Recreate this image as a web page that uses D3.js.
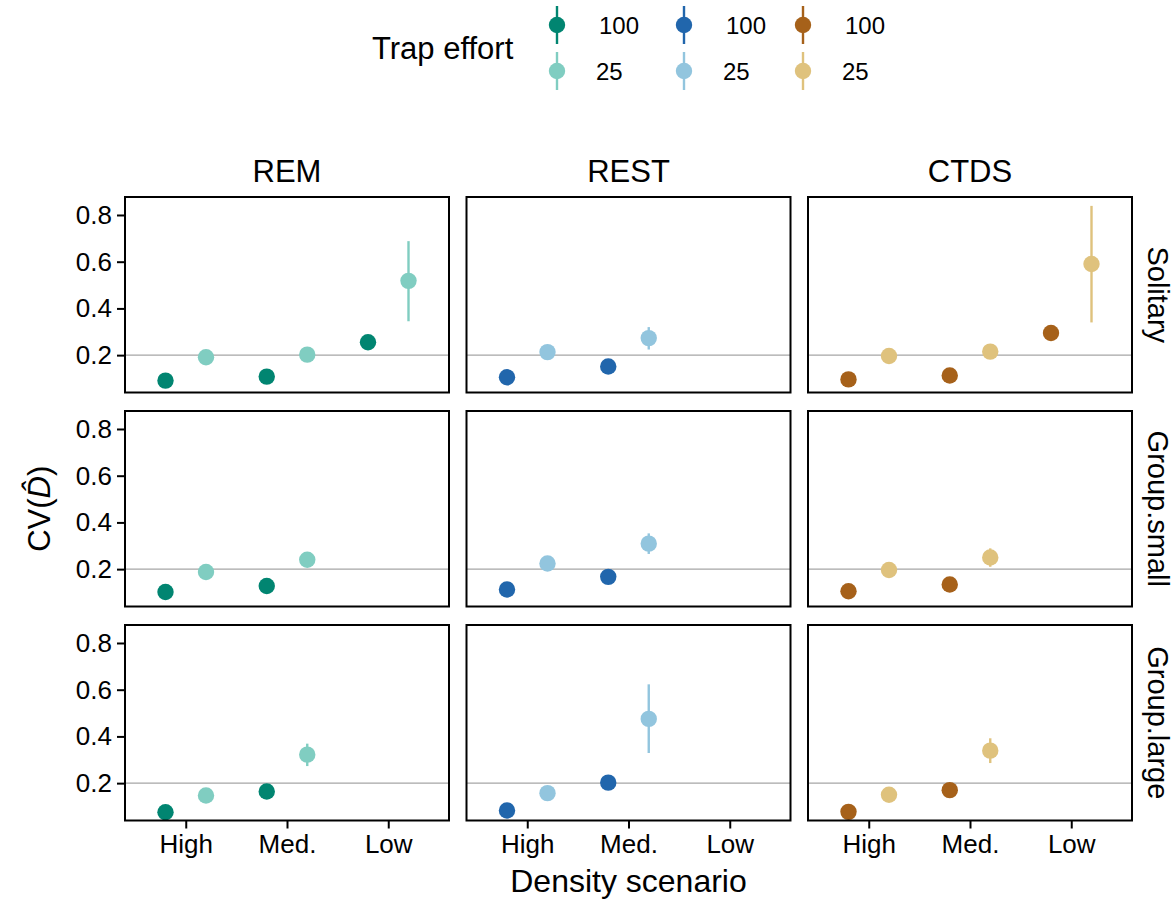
<!DOCTYPE html>
<html>
<head>
<meta charset="utf-8">
<script src="https://cdn.jsdelivr.net/npm/d3@7"></script>
<style>
  body { margin: 0; background: #fff; }
  text { font-family: "Liberation Sans", Arial, sans-serif; fill: #000; }
</style>
</head>
<body>
<div id="chart"></div>
<script>
// facets and categories
const methods = ["REM", "REST", "CTDS"];
const groups = ["Solitary", "Group.small", "Group.large"];
const densities = ["High", "Med.", "Low"];
const efforts = ["100", "25"];
const yTicks = [0.2, 0.4, 0.6, 0.8];

// CV of density estimate, order per row: High100, High25, Med100, Med25, Low100, Low25
// rows = Solitary, Group.small, Group.large; null = not simulated
const cvREM  = [[0.091, 0.191, 0.108, 0.202, 0.255, 0.518],
                [0.102, 0.188, 0.128, 0.240, null, null],
                [0.075, 0.147, 0.164, 0.322, null, null]];
const loREM  = [[0.085, 0.181, 0.101, 0.190, 0.246, 0.345],
                [0.097, 0.180, 0.121, 0.225, null, null],
                [0.070, 0.139, 0.157, 0.273, null, null]];
const hiREM  = [[0.097, 0.201, 0.115, 0.214, 0.264, 0.688],
                [0.107, 0.196, 0.135, 0.255, null, null],
                [0.080, 0.155, 0.171, 0.369, null, null]];

const cvREST = [[0.105, 0.213, 0.151, 0.273, null, null],
                [0.113, 0.224, 0.167, 0.309, null, null],
                [0.083, 0.157, 0.202, 0.475, null, null]];
const loREST = [[0.100, 0.201, 0.145, 0.224, null, null],
                [0.107, 0.205, 0.158, 0.265, null, null],
                [0.078, 0.148, 0.193, 0.329, null, null]];
const hiREST = [[0.110, 0.225, 0.157, 0.320, null, null],
                [0.119, 0.243, 0.176, 0.353, null, null],
                [0.088, 0.166, 0.211, 0.623, null, null]];

const cvCTDS = [[0.096, 0.196, 0.113, 0.215, 0.295, 0.590],
                [0.105, 0.196, 0.134, 0.250, null, null],
                [0.077, 0.150, 0.170, 0.339, null, null]];
const loCTDS = [[0.090, 0.185, 0.107, 0.203, 0.283, 0.340],
                [0.099, 0.186, 0.127, 0.210, null, null],
                [0.072, 0.141, 0.162, 0.286, null, null]];
const hiCTDS = [[0.102, 0.207, 0.119, 0.227, 0.307, 0.839],
                [0.111, 0.206, 0.141, 0.289, null, null],
                [0.082, 0.159, 0.178, 0.392, null, null]];

const cvAll = [cvREM, cvREST, cvCTDS];
const loAll = [loREM, loREST, loCTDS];
const hiAll = [hiREM, hiREST, hiCTDS];

// colours: [effort 100, effort 25] for each method
const palette = [["#018571", "#80cdc1"], ["#2166ac", "#92c5de"], ["#a6611a", "#dfc27d"]];

const width = 1176, height = 899;
const marginLeft = 125, marginTop = 197;
const panelW = 324, panelH = 195.5;
const gapX = 17.5, gapY = 18.5;

const svg = d3.select("#chart").append("svg")
  .attr("width", width).attr("height", height);

const x = d3.scalePoint().domain(densities).range([0, panelW]).padding(0.6);
const dodge = x.step() * 0.2;
const y = d3.scaleLinear().domain([0.04, 0.877]).range([panelH, 0]);

methods.forEach((m, mi) => {
  groups.forEach((g, gi) => {
    const px = marginLeft + mi * (panelW + gapX);
    const py = marginTop + gi * (panelH + gapY);
    const panel = svg.append("g").attr("transform", `translate(${px},${py})`);

    // points for this panel
    const pts = [];
    densities.forEach((d, di) => {
      efforts.forEach((e, ei) => {
        const k = di * 2 + ei;
        const v = cvAll[mi][gi][k];
        if (v == null) return;
        pts.push({ d, e, ei, v, lo: loAll[mi][gi][k], hi: hiAll[mi][gi][k] });
      });
    });

    // reference line at 0.2
    panel.append("line")
      .attr("x1", 0).attr("x2", panelW)
      .attr("y1", y(0.2)).attr("y2", y(0.2))
      .attr("stroke", "#a6a6a6").attr("stroke-width", 1.4);

    const dotX = d => x(d.d) + (d.ei === 0 ? -dodge : dodge);

    panel.selectAll(".err").data(pts).enter().append("line")
      .attr("x1", dotX).attr("x2", dotX)
      .attr("y1", d => y(d.lo)).attr("y2", d => y(d.hi))
      .attr("stroke", d => palette[mi][d.ei]).attr("stroke-width", 2.4);

    panel.selectAll(".pt").data(pts).enter().append("circle")
      .attr("cx", dotX).attr("cy", d => y(d.v)).attr("r", 8.2)
      .attr("fill", d => palette[mi][d.ei]);

    panel.append("rect")
      .attr("width", panelW).attr("height", panelH)
      .attr("fill", "none").attr("stroke", "#000").attr("stroke-width", 2);

    if (mi === 0) {
      const ya = panel.append("g").call(d3.axisLeft(y).tickValues(yTicks).tickFormat(d3.format(".1f")).tickSize(8).tickPadding(5));
      ya.select(".domain").remove();
      ya.selectAll("line").attr("stroke", "#000").attr("stroke-width", 2);
      ya.selectAll("text").attr("font-size", 26).attr("font-family", "Liberation Sans, Arial, sans-serif").attr("fill", "#111");
    }
    if (gi === groups.length - 1) {
      const xa = panel.append("g").attr("transform", `translate(0,${panelH})`)
        .call(d3.axisBottom(x).tickSize(8).tickPadding(6));
      xa.select(".domain").remove();
      xa.selectAll("line").attr("stroke", "#000").attr("stroke-width", 2);
      xa.selectAll("text").attr("font-size", 26).attr("font-family", "Liberation Sans, Arial, sans-serif").attr("fill", "#111");
    }
    if (gi === 0) {
      svg.append("text")
        .attr("x", px + panelW / 2).attr("y", 182)
        .attr("text-anchor", "middle").attr("font-size", 31).attr("fill", "#1a1a1a")
        .text(m);
    }
    if (mi === methods.length - 1) {
      svg.append("text")
        .attr("transform", `translate(1148,${py + panelH / 2}) rotate(90)`)
        .attr("text-anchor", "middle").attr("font-size", 29).attr("fill", "#1a1a1a")
        .text(g);
    }
  });
});

// axis titles
svg.append("text")
  .attr("x", marginLeft + 1.5 * panelW + gapX).attr("y", 892)
  .attr("text-anchor", "middle").attr("font-size", 32)
  .text("Density scenario");

const yTitle = svg.append("text")
  .attr("transform", `translate(50,${marginTop + 1.5 * panelH + gapY}) rotate(-90)`)
  .attr("text-anchor", "middle").attr("font-size", 31);
yTitle.append("tspan").text("CV(");
yTitle.append("tspan").attr("font-style", "italic").text("D\u0302");
yTitle.append("tspan").text(")");

// legend
svg.append("text")
  .attr("x", 372).attr("y", 59).attr("font-size", 31).text("Trap effort");

const legX = [557, 684, 803];
const legY = [25, 71];
palette.forEach((cols, mi) => {
  cols.forEach((c, ei) => {
    const cx = legX[mi], cy = legY[ei];
    svg.append("line")
      .attr("x1", cx).attr("x2", cx).attr("y1", cy - 19).attr("y2", cy + 19)
      .attr("stroke", c).attr("stroke-width", 2.4);
    svg.append("circle").attr("cx", cx).attr("cy", cy).attr("r", 8.2).attr("fill", c);
    svg.append("text")
      .attr("x", cx + (ei === 0 ? 42 : 39)).attr("y", cy + 8.5)
      .attr("font-size", 24).text(efforts[ei]);
  });
});
</script>
</body>
</html>
